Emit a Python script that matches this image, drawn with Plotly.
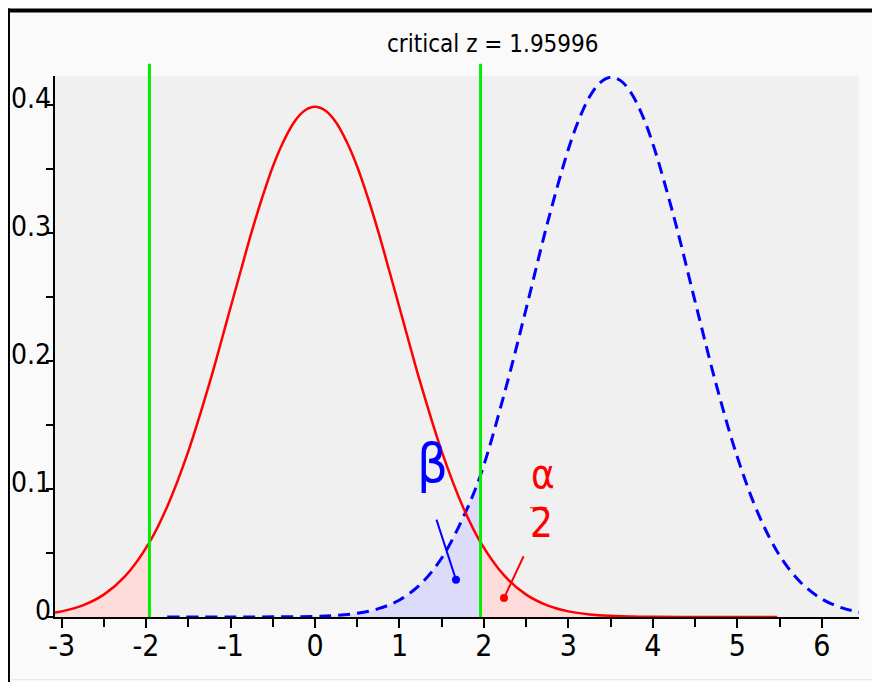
import plotly.graph_objects as go

# ---- data ----
red_x = [-3.1, -3.0, -2.75, -2.5, -2.25, -1.96, -1.75, -1.5, -1.25, -1.125, -1.0, -0.875, -0.75,
         -0.625, -0.5, -0.375, -0.25, -0.125, 0.0, 0.125, 0.25, 0.375, 0.5, 0.625, 0.75, 0.875,
         1.0, 1.125, 1.25, 1.5, 1.75, 1.96, 2.25, 2.5, 2.75, 3.0, 3.25, 3.5, 3.75, 4.0,
         4.5, 5.0, 5.47]
red_y = [0.0033, 0.0044, 0.0091, 0.0175, 0.0317, 0.0584, 0.0863, 0.1295, 0.1826, 0.2119, 0.2420,
         0.2717, 0.3011, 0.3280, 0.3521, 0.3716, 0.3867, 0.3958, 0.3989, 0.3958, 0.3867, 0.3716,
         0.3521, 0.3280, 0.3011, 0.2717, 0.2420, 0.2119, 0.1826, 0.1295, 0.0863, 0.0584,
         0.0317, 0.0175, 0.0091, 0.0044, 0.0020, 0.0009, 0.0004, 0.0001, 0.0, 0.0, 0.0]

blue_x = [-1.75, -1.0, -0.5, 0.0, 0.25, 0.5, 0.75, 1.0, 1.25, 1.5, 1.75, 1.96, 2.25, 2.5, 2.75,
          3.0, 3.125, 3.25, 3.375, 3.5, 3.625, 3.75, 3.875, 4.0, 4.25, 4.5, 4.75, 5.0, 5.25,
          5.5, 5.75, 6.0, 6.25, 6.45]
blue_y = [0.0, 0.0, 0.0001, 0.0005, 0.0012, 0.0029, 0.0065, 0.0133, 0.0257, 0.0461, 0.0773, 0.111,
          0.1768, 0.2412, 0.3075, 0.3659, 0.3890, 0.4067, 0.4178, 0.422, 0.4190, 0.4089, 0.3923,
          0.3699, 0.3125, 0.2466, 0.1817, 0.1250, 0.0803, 0.0481, 0.0270, 0.0141, 0.0069, 0.0037]

critical_z = 1.95996
x_tick_vals = [-3, -2, -1, 0, 1, 2, 3, 4, 5, 6]
x_tick_text = ["-3", "-2", "-1", "0", "1", "2", "3", "4", "5", "6"]
y_tick_vals = [0, 0.1, 0.2, 0.3, 0.4]
y_tick_text = ["0", "0.1", "0.2", "0.3", "0.4"]
title_text = "critical z = 1.95996"

FONT = "Liberation Sans Narrow, DejaVu Sans Condensed, Liberation Sans, sans-serif"
TOL = 1e-3

fig = go.Figure()

# shaded tails / beta area
lx = [x for x in red_x if x <= -critical_z + TOL]
ly = [y for x, y in zip(red_x, red_y) if x <= -critical_z + TOL]
rx = [x for x in red_x if x >= critical_z - TOL]
ry = [y for x, y in zip(red_x, red_y) if x >= critical_z - TOL]
bx = [x for x in blue_x if x <= critical_z + TOL]
by = [y for x, y in zip(blue_x, blue_y) if x <= critical_z + TOL]

for xs, ys, col in [(lx, ly, "#ffdcdc"), (rx, ry, "#ffdcdc"), (bx, by, "#dcdcfa")]:
    fig.add_trace(go.Scatter(x=xs, y=ys, mode="lines", fill="tozeroy", fillcolor=col,
                             line=dict(width=0, shape="spline"), hoverinfo="skip",
                             showlegend=False))

fig.add_trace(go.Scatter(x=blue_x, y=blue_y, mode="lines", showlegend=False,
                         line=dict(color="#0000ff", width=3, dash="12px,7px", shape="spline")))
fig.add_trace(go.Scatter(x=red_x, y=red_y, mode="lines", showlegend=False,
                         line=dict(color="#ff0000", width=2.5, shape="spline")))

# critical value lines
for cx in (-critical_z, critical_z):
    fig.add_shape(type="line", xref="x", yref="paper", x0=cx, x1=cx, y0=0, y1=1.0227,
                  line=dict(color="#00ee00", width=3), layer="above")

# outer frame
fig.add_shape(type="line", xref="paper", yref="paper", x0=-0.061, x1=1.05, y0=1.1213, y1=1.1213,
              line=dict(color="black", width=4))
fig.add_shape(type="line", xref="paper", yref="paper", x0=-0.0585, x1=-0.0585, y0=1.125, y1=-0.13,
              line=dict(color="black", width=4))
fig.add_shape(type="line", xref="paper", yref="paper", x0=-0.055, x1=1.05, y0=-0.1157, y1=-0.1157,
              line=dict(color="#e6e6e6", width=1))

# alpha/2 fraction bar
fig.add_shape(type="line", xref="x", yref="y", x0=2.545, x1=2.747, y0=0.0854, y1=0.0854,
              line=dict(color="#ff0000", width=1))

# labels
fig.add_annotation(x=1.385, y=0.1198, text="β", showarrow=False,
                   font=dict(family=FONT, size=54, color="#0000ff"))
fig.add_annotation(x=2.699, y=0.112, text="α", showarrow=False,
                   font=dict(family=FONT, size=40, color="#ff0000"))
fig.add_annotation(x=2.687, y=0.0737, text="2", showarrow=False,
                   font=dict(family=FONT, size=40, color="#ff0000"))

# pointer lines
fig.add_annotation(x=1.669, y=0.0291, ax=1.432, ay=0.0773, axref="x", ayref="y", text="",
                   showarrow=True, arrowhead=6, arrowsize=1, arrowwidth=2, arrowcolor="#0000ff")
fig.add_annotation(x=2.237, y=0.0148, ax=2.478, ay=0.0487, axref="x", ayref="y", text="",
                   showarrow=True, arrowhead=6, arrowsize=1, arrowwidth=2, arrowcolor="#ff0000")

# y tick labels (drawn slightly above their ticks, as in the original)
for v, t in zip(y_tick_vals, y_tick_text):
    fig.add_annotation(xref="paper", yref="y", x=-0.003, y=v, text=t, showarrow=False,
                       xanchor="right", yanchor="middle", yshift=7,
                       font=dict(family=FONT, size=28, color="black"))

# title
fig.add_annotation(xref="paper", yref="paper", x=0.545, y=1.089, text=title_text, showarrow=False,
                   font=dict(family=FONT, size=24, color="black"))

fig.update_layout(
    width=880, height=682,
    margin=dict(l=47, r=29, t=68, b=73),
    paper_bgcolor="#fafafa", plot_bgcolor="#f0f0f0",
    font=dict(family=FONT, color="black"),
    showlegend=False,
)
fig.update_xaxes(range=[-3.078, 6.44], tickvals=x_tick_vals, ticktext=x_tick_text,
                 automargin=False,
                 showgrid=False, zeroline=False, showline=True, linecolor="black", linewidth=2,
                 ticks="outside", ticklen=9, tickwidth=2, tickcolor="black",
                 ticklabelstandoff=-8,
                 tickfont=dict(family=FONT, size=30),
                 minor=dict(dtick=0.5, tick0=0, ticks="outside", ticklen=8, tickwidth=2,
                            tickcolor="black", showgrid=False))
fig.update_yaxes(range=[0, 0.423], tickvals=y_tick_vals, showticklabels=False,
                 automargin=False,
                 showgrid=False, zeroline=False, showline=True, linecolor="black", linewidth=2,
                 ticks="outside", ticklen=7, tickwidth=2, tickcolor="black",
                 minor=dict(dtick=0.05, tick0=0, ticks="outside", ticklen=7, tickwidth=2,
                            tickcolor="black", showgrid=False))

fig.write_html("out.html")
